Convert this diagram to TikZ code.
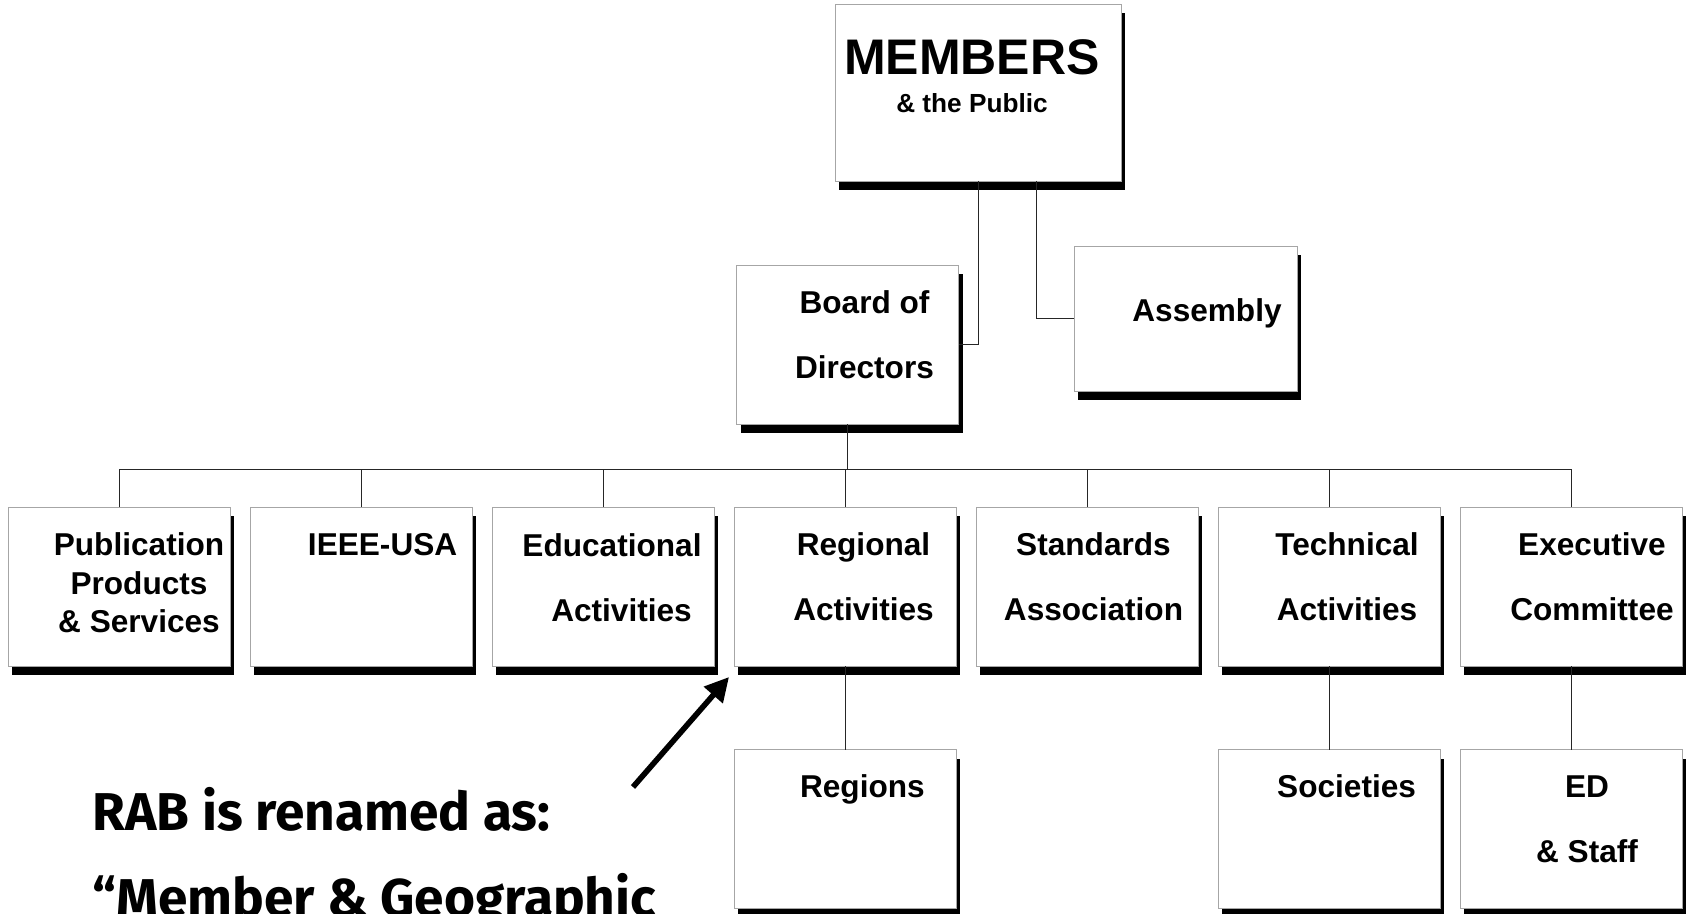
\documentclass[tikz,border=0pt]{standalone}
\usepackage{fontspec}
\setmainfont{Liberation Sans}
\newfontfamily\notefont{Fira Sans}
\usetikzlibrary{positioning,arrows.meta,shadows}

\begin{document}
\begin{tikzpicture}[x=0.5pt, y=-0.5pt,
	unit box/.style={draw=gray!70, fill=white, inner sep=0pt, outer sep=0pt,
		minimum width=111pt, minimum height=79.5pt,
		drop shadow={shadow xshift=2pt, shadow yshift=-4.5pt, fill=black, opacity=1}},
	box text/.style={align=center, font=\bfseries\fontsize{15.8}{32.4}\selectfont},
	link/.style={draw=black!85, line width=0.5pt},
	note/.style={anchor=base west, inner sep=0pt, font=\notefont\bfseries\fontsize{26.6}{30}\selectfont}]

	\useasboundingbox (0,0) rectangle (1686,914);
	\clip (0,0) rectangle (1686,914);

	% top of the chart
	\node[unit box, minimum width=143pt, minimum height=88.5pt] (members) at (978,92.5) {};
	\node[unit box] (board) at (847.5,345) {};
	\node[unit box, minimum width=111.5pt, minimum height=72.5pt] (assembly) at (1185.5,318.5) {};

	% boards under the directors
	\node[unit box] (pub) at (119,586.7) {};
	\node[unit box, right=10pt of pub] (ieee) {};
	\node[unit box, right=10pt of ieee] (edu) {};
	\node[unit box, right=10pt of edu] (reg) {};
	\node[unit box, right=10pt of reg] (std) {};
	\node[unit box, right=10pt of std] (tech) {};
	\node[unit box, right=10pt of tech] (exec) {};

	% lowest row
	\node[unit box, below=41.65pt of reg] (regions) {};
	\node[unit box, below=41.65pt of tech] (soc) {};
	\node[unit box, below=41.65pt of exec] (staff) {};

	% texts
	\node[font=\bfseries\fontsize{25}{30}\selectfont] (memtitle) at (972,57) {MEMBERS};
	\node[font=\bfseries\fontsize{13.1}{16}\selectfont] (memsub) at (972,103) {\& the Public};
	\node[box text] (boardtxt) at (864.5,334.5) {Board of\\Directors};
	\node[box text] (assemblytxt) at (1207,313) {Assembly};
	\node[box text, font=\bfseries\fontsize{15.8}{19.3}\selectfont] (pubtxt) at (139,583) {Publication\\Products\\\& Services};
	\node[box text] (ieeetxt) at (382.6,545) {IEEE-USA};
	\node[box text] (edutxt) at (612,577.5) {Educational\\\hspace*{9.5pt}Activities};
	\node[box text] (regtxt) at (863.5,576.5) {Regional\\Activities};
	\node[box text] (stdtxt) at (1093.5,577) {Standards\\Association};
	\node[box text] (techtxt) at (1347,577) {Technical\\Activities};
	\node[box text] (exectxt) at (1592,577) {Executive\\Committee};
	\node[box text] (regionstxt) at (862.4,789) {Regions};
	\node[box text] (soctxt) at (1346.6,786.7) {Societies};
	\node[box text] (stafftxt) at (1587,819.3) {ED\\\& Staff};

	% connectors
	\coordinate (bus) at (847.5,469);
	\draw[link] (members.south) |- (board.east);
	\draw[link] ([xshift=29pt]members.south) |- (assembly.west);
	\draw[link] (board.south) -- (bus);
	\draw[link] (bus -| pub.north) -- (bus -| exec.north);
	\foreach \n in {pub,ieee,edu,reg,std,tech,exec}
		\draw[link] (bus -| \n.north) -- (\n.north);
	\draw[link] (reg.south) -- (regions.north);
	\draw[link] (tech.south) -- (soc.north);
	\draw[link] (exec.south) -- (staff.north);

	% the note
	\coordinate (tail) at (633,787);
	\coordinate (tip) at (729,677);
	\draw[line width=2.8pt, -{Triangle[length=12pt, width=12pt]}] (tail) -- (tip);
	\node[note] (rab) at (92,830) {RAB is renamed as:};
	\node[note] (mga) at (92,916.7) {“Member \& Geographic};
\end{tikzpicture}
\end{document}
